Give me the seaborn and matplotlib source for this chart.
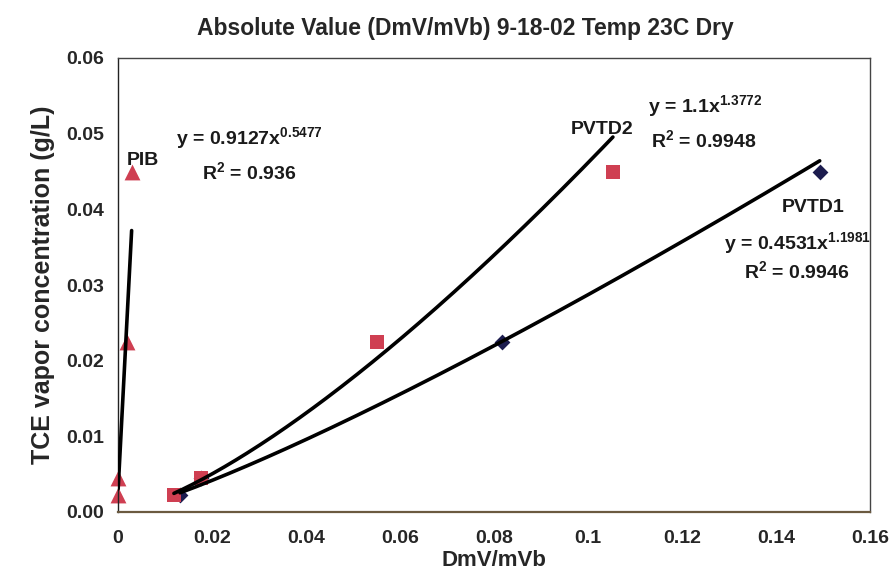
import numpy as np
import pandas as pd
import matplotlib
matplotlib.use("Agg")
import matplotlib.pyplot as plt
import seaborn as sns

# ---- data ----
conc = [0.00225, 0.0045, 0.0225, 0.045]
pib_x = [0.00003, 0.00005, 0.00185, 0.0029]
pvtd2_x = [0.0119, 0.0177, 0.0550, 0.1053]
pvtd1_x = [0.0132, 0.0176, 0.0818, 0.1493]

# power trendlines  y = a * x^b  (coefficient, exponent, R^2)
pib_fit = (0.9127, 0.5477, 0.936)
pvtd2_fit = (1.1, 1.3772, 0.9948)
pvtd1_fit = (0.4531, 1.1981, 0.9946)

x_ticks = [0, 0.02, 0.04, 0.06, 0.08, 0.1, 0.12, 0.14, 0.16]
x_tick_labels = ["0", "0.02", "0.04", "0.06", "0.08", "0.1", "0.12", "0.14", "0.16"]
y_ticks = [0.0, 0.01, 0.02, 0.03, 0.04, 0.05, 0.06]
y_tick_labels = ["0.00", "0.01", "0.02", "0.03", "0.04", "0.05", "0.06"]

title = "Absolute Value (DmV/mVb) 9-18-02 Temp 23C Dry"
xlabel = "DmV/mVb"
ylabel = "TCE vapor concentration (g/L)"

sns.set_theme(style="white")
plt.rcParams['font.family'] = ['Liberation Sans', 'DejaVu Sans']
plt.rcParams['font.weight'] = 'bold'
plt.rcParams['mathtext.fontset'] = 'custom'
plt.rcParams['mathtext.rm'] = 'Liberation Sans:bold'
plt.rcParams['mathtext.bf'] = 'Liberation Sans:bold'
plt.rcParams['mathtext.it'] = 'Liberation Sans:bold'

fig = plt.figure(figsize=(8.91, 5.82), dpi=100)
ax = fig.add_axes([118/891, 1-512/582, (870-118)/891, (512-58)/582])

red = "#CF3F52"
navy = "#1C1C4E"

def fit_curve(xs, fit, n):
    a, b, _ = fit
    xx = np.linspace(min(xs), max(xs), n)
    return pd.DataFrame({"x": xx, "y": a * xx ** b})

for xs, fit, n in [(pib_x, pib_fit, 2), (pvtd2_x, pvtd2_fit, 200), (pvtd1_x, pvtd1_fit, 200)]:
    d = fit_curve(xs, fit, n)
    sns.lineplot(data=d, x="x", y="y", ax=ax, color="black", lw=2.6, sort=False, zorder=3)

sns.scatterplot(x=pvtd1_x, y=conc, ax=ax, marker="D", s=65, color=navy, edgecolor=navy,
                linewidth=0, zorder=1, clip_on=False)
sns.scatterplot(x=pib_x, y=conc, ax=ax, marker="^", s=130, color=red, edgecolor=red,
                linewidth=0, zorder=2, clip_on=False)
sns.scatterplot(x=pvtd2_x, y=conc, ax=ax, marker="s", s=110, color=red, edgecolor=red,
                linewidth=0, zorder=2, clip_on=False)

ax.set_xlim(0, 0.16)
ax.set_ylim(0, 0.06)
ax.set_xticks(x_ticks)
ax.set_xticklabels(x_tick_labels, fontsize=14, fontweight='bold')
ax.set_yticks(y_ticks)
ax.set_yticklabels(y_tick_labels, fontsize=14, fontweight='bold')
ax.tick_params(axis='x', direction='inout', length=8, width=1, color='#333333', pad=9)
ax.tick_params(axis='y', direction='out', length=5, width=1, color='#333333', pad=5)
for s in ax.spines.values():
    s.set_color('#444444')
    s.set_linewidth(1.0)
ax.spines['left'].set_color('#222222')
ax.spines['bottom'].set_color('#6b5a40')
ax.spines['bottom'].set_linewidth(1.6)

ax.set_xlabel(xlabel, fontsize=16, fontweight='bold', labelpad=2)
ax.set_ylabel(ylabel, fontsize=18, fontweight='bold', labelpad=8)
fig.text(0.522, 1-28/582, title, ha='center', va='center', fontsize=16.5, fontweight='bold')

tk = dict(fontsize=14, fontweight='bold', color='#1a1a1a', va='center')

def eq(fit):
    a, b, _ = fit
    return "y = %sx$^{%s}$" % (("%g" % a), ("%.4f" % b))

def r2(fit):
    return "R$^{2}$ = %s" % ("%g" % fit[2])

ax.text(0.0052, 0.0465, "PIB", ha='center', **tk)
ax.text(0.0123, 0.0494, eq(pib_fit), ha='left', **tk)
ax.text(0.0179, 0.0449, r2(pib_fit), ha='left', **tk)

ax.text(0.1029, 0.0506, "PVTD2", ha='center', **tk)
ax.text(0.1127, 0.0536, eq(pvtd2_fit), ha='left', **tk)
ax.text(0.1133, 0.0491, r2(pvtd2_fit), ha='left', **tk)

ax.text(0.1479, 0.0402, "PVTD1", ha='center', **tk)
ax.text(0.1445, 0.0356, eq(pvtd1_fit), ha='center', **tk)
ax.text(0.1445, 0.0318, r2(pvtd1_fit), ha='center', **tk)

fig.savefig("out.png", dpi=100)
